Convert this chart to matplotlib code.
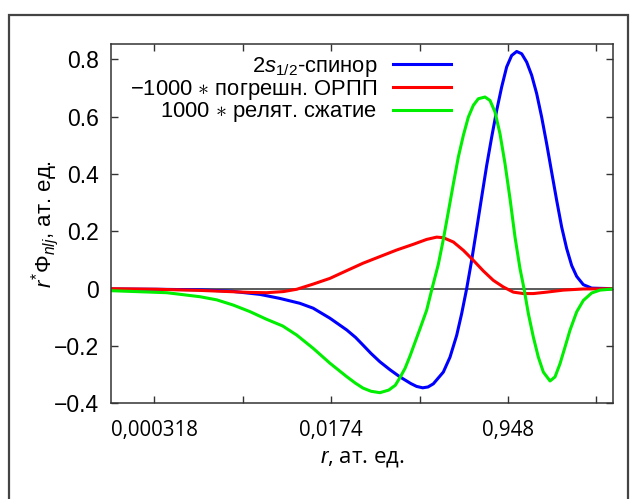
import numpy as np
import matplotlib
matplotlib.use("Agg")
import matplotlib.pyplot as plt
from matplotlib.patches import Rectangle

plt.rcParams['font.family'] = ['Liberation Sans', 'DejaVu Sans']
plt.rcParams['mathtext.fontset'] = 'custom'
plt.rcParams['mathtext.rm'] = 'Liberation Sans'
plt.rcParams['mathtext.it'] = 'Liberation Sans:italic'
plt.rcParams['mathtext.bf'] = 'Liberation Sans:bold'

# values, x given as ln(r), r in atomic units
spinor_lnr = [-9.03, -8.0, -7.0, -6.3, -5.66, -5.21, -4.76, -4.46, -4.08, -3.70,
              -3.50, -3.33, -3.15, -2.95, -2.72, -2.494, -2.25, -2.12, -1.981, -1.86,
              -1.74, -1.514, -1.363, -1.212, -1.099, -0.986, -0.873, -0.759, -0.646, -0.533,
              -0.420, -0.307, -0.194, -0.081, 0.032, 0.146, 0.259, 0.372, 0.485, 0.598,
              0.711, 0.824, 0.937, 1.051, 1.164, 1.277, 1.390, 1.503, 1.654, 1.842, 2.33]
spinor_val = [-0.001, -0.002, -0.004, -0.009, -0.02, -0.034, -0.051, -0.068, -0.103, -0.144,
              -0.17, -0.197, -0.226, -0.255, -0.283, -0.308, -0.331, -0.341, -0.346, -0.343,
              -0.332, -0.291, -0.239, -0.163, -0.087, 0.0, 0.099, 0.209, 0.32, 0.43,
              0.529, 0.622, 0.704, 0.774, 0.814, 0.828, 0.82, 0.791, 0.745, 0.681,
              0.599, 0.506, 0.407, 0.308, 0.215, 0.14, 0.081, 0.043, 0.014, 0.002, 0.0]

err_lnr = [-9.03, -8.0, -7.02, -5.89, -5.51, -5.13, -4.83, -4.46, -4.08, -3.70,
           -3.33, -2.95, -2.57, -2.192, -1.891, -1.664, -1.514, -1.287, -1.061, -0.835,
           -0.609, -0.382, -0.156, 0.070, 0.296, 0.523, 0.824, 1.201, 1.654, 2.33]
err_val = [0.0, -0.002, -0.006, -0.013, -0.014, -0.01, -0.002, 0.016, 0.036, 0.063,
           0.089, 0.112, 0.135, 0.155, 0.172, 0.18, 0.178, 0.163, 0.134, 0.099,
           0.062, 0.029, 0.006, -0.012, -0.017, -0.017, -0.012, -0.005, -0.001, 0.0]

contr_lnr = [-9.03, -7.77, -7.02, -6.64, -6.27, -5.89, -5.51, -5.15, -4.83, -4.46,
             -4.08, -3.70, -3.50, -3.33, -3.15, -2.95, -2.75, -2.60, -2.494, -2.38,
             -2.268, -2.042, -1.891, -1.770, -1.627, -1.514, -1.401, -1.287, -1.174, -1.061,
             -0.948, -0.835, -0.722, -0.571, -0.458, -0.345, -0.232, -0.118, -0.005, 0.108,
             0.221, 0.312, 0.410, 0.523, 0.636, 0.749, 0.900, 1.013, 1.126, 1.239,
             1.352, 1.503, 1.654, 1.842, 2.031, 2.33]
contr_val = [-0.007, -0.014, -0.028, -0.039, -0.057, -0.08, -0.107, -0.13, -0.162, -0.208,
             -0.26, -0.307, -0.33, -0.347, -0.358, -0.363, -0.354, -0.337, -0.31, -0.278,
             -0.235, -0.14, -0.075, 0.0, 0.085, 0.172, 0.268, 0.366, 0.46, 0.535,
             0.599, 0.64, 0.663, 0.669, 0.657, 0.617, 0.541, 0.436, 0.314, 0.18,
             0.07, 0.0, -0.087, -0.169, -0.239, -0.291, -0.322, -0.308, -0.262, -0.204,
             -0.145, -0.081, -0.041, -0.015, -0.005, -0.001]

labels = [r"2$s_{1/2}$-спинор",
          "\u22121000 $\\ast$ погрешн. ОРПП",
          "1000 $\\ast$ релят. сжатие"]
colors = ['#0000ff', '#ff0000', '#00ee00']

xticks = [0.000318, 0.00235, 0.0174, 0.1286, 0.948, 7.005]
xticklabels = ["0,000318", "", "0,0174", "", "0,948", ""]
yticks = [-0.4, -0.2, 0, 0.2, 0.4, 0.6, 0.8]
yticklabels = ["\u22120.4", "\u22120.2", "0", "0.2", "0.4", "0.6", "0.8"]

fig = plt.figure(figsize=(6.3, 4.99), dpi=100)
ax = fig.add_axes([0.1762, 0.1918, 0.7973, 0.7194])

ax.axhline(0, color='#5a5a5a', lw=1.4, zorder=1)
series = [(spinor_lnr, spinor_val), (err_lnr, err_val), (contr_lnr, contr_val)]
for (lnr, val), lab, c in zip(series, labels, colors):
    ax.plot(np.exp(lnr), val, color=c, lw=2.2, label=lab, zorder=2,
            solid_joinstyle='round')

ax.set_xscale('log')
ax.set_xlim(np.exp(-9.033), np.exp(2.332))
ax.set_ylim(-0.4, 0.853)
ax.minorticks_off()
ax.set_xticks(xticks, xticklabels, fontfamily='Open Sans', fontsize=14.8)
ax.set_yticks(yticks, yticklabels, fontsize=16.5)
ax.tick_params(axis='both', direction='in', length=5, width=1, color='#333333',
               top=True, right=True)
ax.tick_params(axis='x', pad=12)
ax.tick_params(axis='y', pad=9)
for sp in ax.spines.values():
    sp.set_color('#333333')
    sp.set_linewidth(1.1)

ax.set_xlabel(r"$r$, ат. ед.", fontfamily='Open Sans', fontsize=16, va='center')
ax.xaxis.set_label_coords(0.5, -0.155)
ax.set_ylabel(r"$r^{*}\Phi_{nlj}$, ат. ед.", fontsize=16, va='center')
ax.yaxis.set_label_coords(-0.131, 0.5)

ax.legend(loc='upper right', bbox_to_anchor=(451 / 630, 1 - 55 / 499),
          bbox_transform=fig.transFigure, frameon=False, markerfirst=False,
          fontsize=15.8, handlelength=2.65, handletextpad=0.7, labelspacing=-0.06,
          borderpad=0, borderaxespad=0)

# outer frame of the picture
fig.add_artist(Rectangle((9 / 630, -0.2), 619 / 630, 1.2 - 15 / 499, transform=fig.transFigure,
                         fill=False, ec='#444444', lw=1.6, clip_on=False))

fig.savefig('out.png', dpi=100)
